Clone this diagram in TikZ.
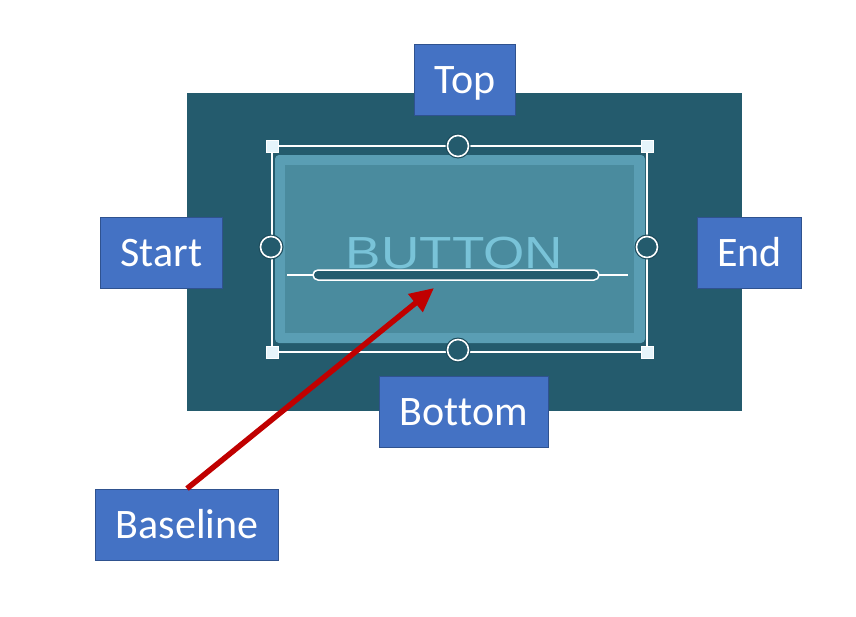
\documentclass[tikz,border=0pt]{standalone}
\usepackage{fontspec}
\setmainfont{Carlito}[Ligatures=NoCommon]
\newfontfamily\btnfont{Liberation Sans}
\usetikzlibrary{arrows.meta}
\definecolor{panel}{HTML}{245B6D}
\definecolor{halo}{HTML}{1B4A5A}
\definecolor{rim}{HTML}{5A9EB4}
\definecolor{face}{HTML}{4A8B9E}
\definecolor{btntext}{HTML}{79C3D8}
\definecolor{tagblue}{HTML}{4472C4}
\definecolor{tagline}{HTML}{2F528F}
\definecolor{cornerfill}{HTML}{E6F5FB}
\definecolor{arrowred}{HTML}{C00000}
\begin{document}
\begin{tikzpicture}[x=1pt,y=-1pt,
    tag/.style={fill=tagblue,draw=tagline,line width=.8pt,text=white,font=\fontsize{42}{48}\selectfont,
        minimum height=71pt,inner xsep=20pt,text height=27pt,text depth=0pt},
    knob/.style={fill=panel,draw=white,line width=1.6pt},
    corner/.style={fill=cornerfill,draw=white,line width=.5pt}]
    \useasboundingbox[fill=white] (0,0) rectangle (856,616);
    % control and button
    \fill[panel] (187,93) rectangle (742,411);
    \fill[rim,rounded corners=4pt] (275,155) rectangle (645,343);
    \fill[face] (285,165) rectangle (634,333);
    \node[anchor=base,text=btntext,font=\btnfont\fontsize{45}{50}\selectfont,inner sep=0pt] (label) at (454.5,268) {\scalebox{1.18}[1]{BUTTON}};
    % baseline handle
    \draw[white,line width=1.2pt] (287,275) -- (628,275);
    \draw[white,line width=1.5pt,fill=panel,rounded corners=5pt] (313,270) rectangle (599,280);
    % selection frame
    \draw[white,line width=1.4pt] (272,146) rectangle (647,352);
    \foreach \x/\y in {272/146,647/146,272/352,647/352}
        \draw[corner] (\x-6,\y-6) rectangle (\x+6,\y+6);
    \foreach \x/\y in {458/146,458/350,271/247,647/247}{
        \fill[halo] (\x,\y) circle (12.5);
        \draw[knob] (\x,\y) circle (10.5);
    }
    % labels
    \node[tag] (top) at (465,80) {Top};
    \node[tag] (start) at (161.5,252.5) {Start};
    \node[tag] (end) at (749.5,252.5) {End};
    \node[tag] (bottom) at (464,412) {Bot\kern0pt tom};
    \node[tag] (baseline) at (187,524.5) {Baseline};
    \coordinate (tip) at (434,288);
    \draw[arrowred,line width=5.5pt,-{Triangle[length=24pt,width=22pt]}] (baseline.north) -- (tip);
\end{tikzpicture}
\end{document}
